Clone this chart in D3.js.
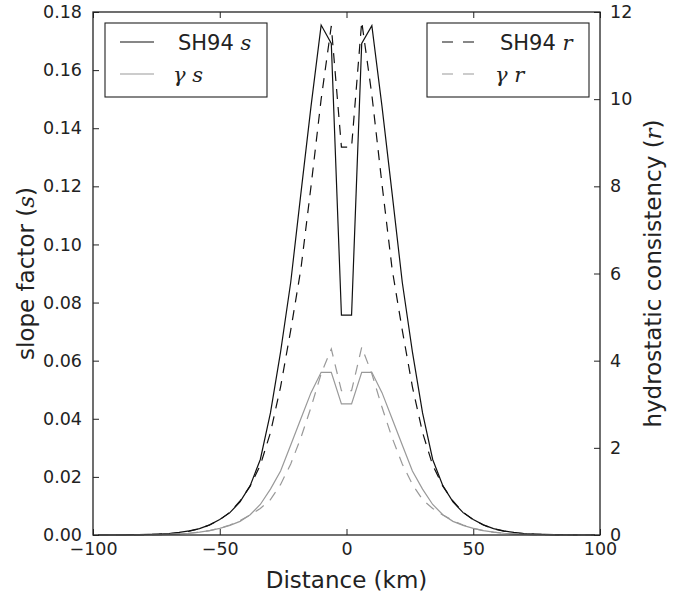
<!DOCTYPE html>
<html><head><meta charset="utf-8">
<script src="https://cdn.jsdelivr.net/npm/d3@7"></script>
<style>
body{margin:0;background:#fff}
svg{display:block}
text{font-family:"DejaVu Sans",sans-serif;fill:#222}
.m{font-family:"DejaVu Serif",serif;font-style:italic}
</style>
</head><body><svg id="c" width="680" height="595"></svg>
<script>
// ---- data ----
const distance = [-98,-94,-90,-86,-82,-78,-74,-70,-66,-62,-58,-54,-50,-46,-42,-38,-34,-30,-26,-22,-18,-14,-10,-6,-2,
                  2,6,10,14,18,22,26,30,34,38,42,46,50,54,58,62,66,70,74,78,82,86,90,94,98];
const sh94S = [0,0,0,0.00005,0.0001,0.0002,0.0003,0.0005,0.0009,0.0014,0.0022,0.0035,0.0053,0.0077,0.0114,0.017,0.026,0.042,0.063,0.087,0.1175,0.1475,0.1755,0.1692,0.0757,
               0.0757,0.1692,0.1753,0.1475,0.1175,0.087,0.063,0.042,0.026,0.017,0.0114,0.0077,0.0053,0.0035,0.0022,0.0014,0.0009,0.0005,0.0003,0.0002,0.0001,0.00005,0,0,0];
const sh94R = [0,0,0,0,0.005,0.01,0.02,0.03,0.05,0.09,0.14,0.23,0.35,0.52,0.78,1.12,1.6,2.35,3.4,4.7,6.1,8.0,10.0,11.68,8.9,
               8.9,11.78,10.1,8.05,6.1,4.7,3.4,2.35,1.6,1.12,0.78,0.52,0.35,0.23,0.14,0.09,0.05,0.03,0.02,0.01,0.005,0,0,0,0];
const gammaS = [0,0,0,0,0.00003,0.00005,0.0001,0.0002,0.0004,0.0006,0.001,0.0015,0.0023,0.0033,0.0047,0.007,0.0105,0.0158,0.022,0.031,0.040,0.049,0.056,0.056,0.0451,
                0.0451,0.056,0.056,0.049,0.040,0.031,0.022,0.0158,0.0105,0.007,0.0047,0.0033,0.0023,0.0015,0.001,0.0006,0.0004,0.0002,0.0001,0.00005,0.00003,0,0,0,0];
const gammaR = [0,0,0,0,0.002,0.004,0.008,0.015,0.025,0.04,0.065,0.1,0.155,0.23,0.33,0.46,0.61,0.81,1.16,1.63,2.23,2.93,3.7,4.27,3.31,
                3.31,4.31,3.7,2.93,2.23,1.63,1.16,0.81,0.61,0.46,0.33,0.23,0.155,0.1,0.065,0.04,0.025,0.015,0.008,0.004,0.002,0,0,0,0];
const xTicks = [-100,-50,0,50,100];
const sTicks = [0,0.02,0.04,0.06,0.08,0.10,0.12,0.14,0.16,0.18];
const rTicks = [0,2,4,6,8,10,12];

// ---- layout ----
const L=93,R=600,T=12,B=535;
const svg=d3.select("#c");
const x=d3.scaleLinear().domain([-100,100]).range([L,R]);
const ys=d3.scaleLinear().domain([0,0.18]).range([B,T]);
const yr=d3.scaleLinear().domain([0,12]).range([B,T]);

const lineS=d3.line().x((d,i)=>x(distance[i])).y(d=>ys(d));
const lineR=d3.line().x((d,i)=>x(distance[i])).y(d=>yr(d));

const DASH="10,8";
const series=[
  {v:sh94S,l:lineS,c:"#111",dash:null},
  {v:sh94R,l:lineR,c:"#111",dash:DASH},
  {v:gammaS,l:lineS,c:"#999",dash:null},
  {v:gammaR,l:lineR,c:"#999",dash:DASH}
];
series.forEach(s=>{
  svg.append("path").attr("d",s.l(s.v)).attr("fill","none")
    .attr("stroke",s.c).attr("stroke-width",1.2)
    .attr("stroke-dasharray",s.dash);
});

// ---- axes ----
const fs=17.5;
function style(g){
  g.select(".domain").remove();
  g.selectAll(".tick line").attr("stroke","#222").attr("stroke-width",1);
  g.selectAll(".tick text").style("font-size",fs+"px").attr("fill","#222");
}
svg.append("g").attr("transform",`translate(0,${B})`)
  .call(d3.axisBottom(x).tickValues(xTicks).tickFormat(d3.format("d")).tickSizeInner(-6).tickSizeOuter(0).tickPadding(8)).call(style);
svg.append("g").attr("transform",`translate(0,${T})`)
  .call(d3.axisTop(x).tickValues(xTicks).tickFormat("").tickSizeInner(-6).tickSizeOuter(0)).call(style);
svg.append("g").attr("transform",`translate(${L},0)`)
  .call(d3.axisLeft(ys).tickValues(sTicks).tickFormat(d3.format(".2f")).tickSizeInner(-6).tickSizeOuter(0).tickPadding(11)).call(style);
svg.append("g").attr("transform",`translate(${R},0)`)
  .call(d3.axisRight(yr).tickValues(rTicks).tickFormat(d3.format("d")).tickSizeInner(-6).tickSizeOuter(0).tickPadding(10)).call(style);

svg.append("rect").attr("x",L).attr("y",T).attr("width",R-L).attr("height",B-T)
  .attr("fill","none").attr("stroke","#222").attr("stroke-width",1.3);

// ---- axis labels ----
const lf=23;
svg.append("text").attr("x",(L+R)/2).attr("y",588).attr("text-anchor","middle")
  .style("font-size",lf+"px").text("Distance (km)");
const ylab=svg.append("text").attr("transform",`translate(34,${(T+B)/2}) rotate(-90)`)
  .attr("text-anchor","middle").style("font-size",lf+"px");
ylab.append("tspan").text("slope factor (");
ylab.append("tspan").attr("class","m").text("s");
ylab.append("tspan").text(")");
const rlab=svg.append("text").attr("transform",`translate(661,${(T+B)/2}) rotate(-90)`)
  .attr("text-anchor","middle").style("font-size",lf+"px");
rlab.append("tspan").text("hydrostatic consistency (");
rlab.append("tspan").attr("class","m").text("r");
rlab.append("tspan").text(")");

// ---- legends ----
const legends=[
  {bx:105,items:[{name:"SH94 ",m:"s",c:"#111",dash:null},{name:"\u03b3 ",m:"s",c:"#999",dash:null,g:true}]},
  {bx:427,items:[{name:"SH94 ",m:"r",c:"#111",dash:DASH},{name:"\u03b3 ",m:"r",c:"#999",dash:DASH,g:true}]}
];
legends.forEach(lg=>{
  svg.append("rect").attr("x",lg.bx).attr("y",23).attr("width",162).attr("height",74)
    .attr("fill","#fff").attr("stroke","#222").attr("stroke-width",1.1);
  lg.items.forEach((it,i)=>{
    const yy=42+i*32;
    svg.append("line").attr("x1",lg.bx+15).attr("x2",lg.bx+49).attr("y1",yy).attr("y2",yy)
      .attr("stroke",it.c).attr("stroke-width",1.2).attr("stroke-dasharray",it.dash?"11,10":null);
    const t=svg.append("text").attr("x",lg.bx+(it.g?68:73)).attr("y",yy+7.5).style("font-size","21px");
    if(it.g){
      t.append("tspan").attr("class","m").text(it.name);
    } else {
      t.append("tspan").text(it.name);
    }
    t.append("tspan").attr("class","m").text(it.m);
  });
});
</script>
</body></html>
